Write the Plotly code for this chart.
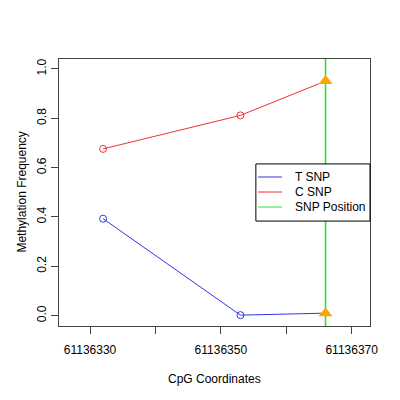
import plotly.graph_objects as go

# CpG positions and methylation values
cpg_pos = [61136332, 61136353, 61136366]
t_snp = [0.393, 0.002, 0.010]
c_snp = [0.676, 0.812, 0.951]
snp_pos = 61136366
snp_vals = [0.951, 0.010]

x_ticks = [61136330, 61136340, 61136350, 61136360, 61136370]
x_tick_text = ['61136330', '', '61136350', '', '61136370']
y_ticks = [0.0, 0.2, 0.4, 0.6, 0.8, 1.0]
y_tick_text = ['0.0', '0.2', '0.4', '0.6', '0.8', '1.0']

legend_names = ['T SNP', 'C SNP', 'SNP Position']

FONT = 'Liberation Sans, Arial, sans-serif'
BLUE = '#3333EE'
RED = '#EE3333'
GREEN = '#33DD33'
legend_colors = [BLUE, RED, GREEN]

fig = go.Figure()

# SNP position line
fig.add_trace(go.Scatter(x=[snp_pos, snp_pos], y=[-0.1, 1.1], mode='lines',
                         line=dict(color=GREEN, width=1.6), hoverinfo='skip'))

fig.add_trace(go.Scatter(x=cpg_pos[:2], y=t_snp[:2], mode='lines+markers',
                         line=dict(color=BLUE, width=1),
                         marker=dict(symbol='circle-open', size=7, color=BLUE)))
fig.add_trace(go.Scatter(x=cpg_pos[1:], y=t_snp[1:], mode='lines',
                         line=dict(color=BLUE, width=1)))
fig.add_trace(go.Scatter(x=cpg_pos[:2], y=c_snp[:2], mode='lines+markers',
                         line=dict(color=RED, width=1),
                         marker=dict(symbol='circle-open', size=7, color=RED)))
fig.add_trace(go.Scatter(x=cpg_pos[1:], y=c_snp[1:], mode='lines',
                         line=dict(color=RED, width=1)))

# SNP markers
fig.add_trace(go.Scatter(x=[snp_pos, snp_pos], y=snp_vals, mode='markers',
                         marker=dict(symbol='triangle-up', size=12, color='#FFA500')))

# hand-drawn legend box, R style
shapes = [dict(type='rect', xref='paper', yref='paper', x0=0.633, x1=1.0, y0=0.393, y1=0.607,
               line=dict(color='black', width=1), fillcolor='white', layer='above')]
annotations = []
for i, (name, col) in enumerate(zip(legend_names, legend_colors)):
    yy = 0.558 - i * 0.0562
    shapes.append(dict(type='line', xref='paper', yref='paper', x0=0.640, x1=0.717,
                       y0=yy, y1=yy, line=dict(color=col, width=1), layer='above'))
    annotations.append(dict(text=name, xref='paper', yref='paper', x=0.752, y=yy,
                            xanchor='left', yanchor='middle', showarrow=False,
                            font=dict(size=12)))

# axis titles
annotations.append(dict(text='CpG Coordinates', xref='paper', yref='paper', x=0.5, y=-0.1985,
                        xanchor='center', yanchor='middle', showarrow=False, font=dict(size=12)))
annotations.append(dict(text='Methylation Frequency', xref='paper', yref='paper', x=-0.122,
                        y=0.5, xanchor='center', yanchor='middle', textangle=-90,
                        showarrow=False, font=dict(size=12)))

fig.update_layout(
    width=392, height=392,
    margin=dict(l=51, r=30, t=51, b=74, autoexpand=False),
    plot_bgcolor='white', paper_bgcolor='white',
    font=dict(family=FONT, size=12, color='black'),
    showlegend=False,
    shapes=shapes,
    annotations=annotations,
)
fig.update_xaxes(range=[61136325.26, 61136372.8], tickvals=x_ticks, ticktext=x_tick_text,
                 showgrid=False, zeroline=False, showline=True, linecolor='#444', mirror=True,
                 ticks='outside', ticklen=7, tickcolor='#444', automargin=False,
                 ticklabelstandoff=6)
fig.update_yaxes(range=[-0.042, 1.0405], tickvals=y_ticks, ticktext=y_tick_text,
                 showgrid=False, zeroline=False, showline=True, linecolor='#444', mirror=True,
                 ticks='outside', ticklen=7, tickcolor='#444', tickangle=-90, automargin=False)

fig.write_html('out.html')
